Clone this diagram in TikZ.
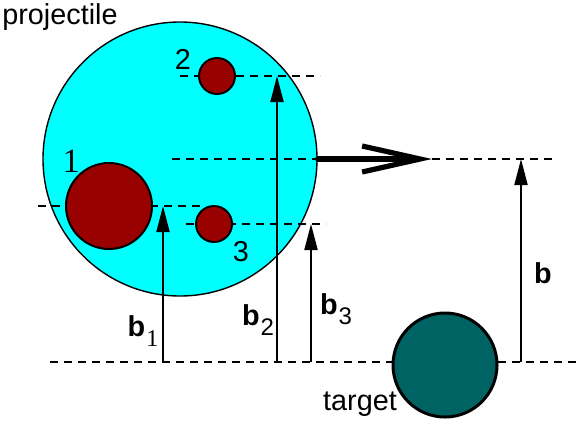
\documentclass[tikz,border=0pt]{standalone}
\usepackage{fontspec}
\setmainfont{Liberation Sans}
\newfontfamily\seriffont{Liberation Serif}
\usetikzlibrary{arrows.meta, positioning}
\definecolor{projcyan}{RGB}{0,255,255}
\definecolor{fragred}{RGB}{153,0,0}
\definecolor{targteal}{RGB}{0,99,99}
\newcommand\lowsub[1]{\kern0.5pt\raisebox{-5pt}{\fontsize{12}{12}\selectfont #1}}
\tikzset{
x=0.5pt, y=-0.5pt, % one unit is one pixel of the sketch, y runs down
ball/.style={circle, draw, line width=1pt, inner sep=0pt, minimum size=#1}, % every sphere
frag/.style={ball=#1, fill=fragred}, % the pieces inside the projectile
dline/.style={dash pattern=on 4pt off 3pt, line width=1pt}, % lines of flight
vec/.style={-{Triangle[length=13pt,width=6.5pt]}, line width=1pt}, % impact parameters
every node/.style={font=\fontsize{14.4}{17}\selectfont},
}

\begin{document}
\begin{tikzpicture}
    \useasboundingbox (0,0) rectangle (581,424);
    \node[ball=137pt, fill=projcyan, line width=0.7pt] (proj) at (180,159) {};
    % ends of the dashed lines
    \coordinate (c1w) at (38,206);  \coordinate (c1e) at (200,206);
    \coordinate (c2w) at (180,76);  \coordinate (c2e) at (320,76);
    \coordinate (c3w) at (186,224); \coordinate (c3e) at (326,224);
    \coordinate (cw) at (172,159);  \coordinate (ce) at (553,159);
    \coordinate (basew) at (50,362); \coordinate (basee) at (580,362);
    \coordinate (head) at (432,159);
    % tops of the arrows
    \coordinate (a1) at (163,206); \coordinate (a2) at (277,76);
    \coordinate (a3) at (311,224); \coordinate (a4) at (521,159);
    \draw[dline] (c1w) -- (c1e) (c2w) -- (c2e) (c3w) -- (c3e)
        (cw) -- (proj.east) (head) -- (ce) (basew) -- (basee);
    \draw[line width=2.6pt, line cap=round, -{Straight Barb[length=29pt,width=13pt]}] (proj.east) -- (head);
    \node[frag=43pt] (frag1) at (109,206) {};
    \node[frag=18pt] (frag2) at (217,76) {};
    \node[frag=18pt] (frag3) at (214,224) {};
    \node[ball=52pt, fill=targteal, line width=1.5pt] (targ) at (445,365) {};
    \draw[vec] (a1 |- basew) -- (a1);
    \draw[vec] (a2 |- basew) -- (a2);
    \draw[vec] (a3 |- basew) -- (a3);
    \draw[vec] (a4 |- basew) -- (a4);
    \node (lproj) at (60,17) {projectile};
    \node[font=\seriffont\fontsize{17}{17}\selectfont] (n1) at (71,161) {1};
    \node (n2) at (183,59) {2};
    \node (n3) at (241,252) {3};
    \node (lb1) at (143,331) {\textbf{b}\lowsub{\seriffont 1}};
    \node (lb2) at (258,320) {\textbf{b}\lowsub{2}};
    \node (lb3) at (336,309) {\textbf{b}\lowsub{3}};
    \node (lb) at (543,273) {\textbf{b}};
    \node (ltarg) at (360,404) {target};
\end{tikzpicture}
\end{document}
